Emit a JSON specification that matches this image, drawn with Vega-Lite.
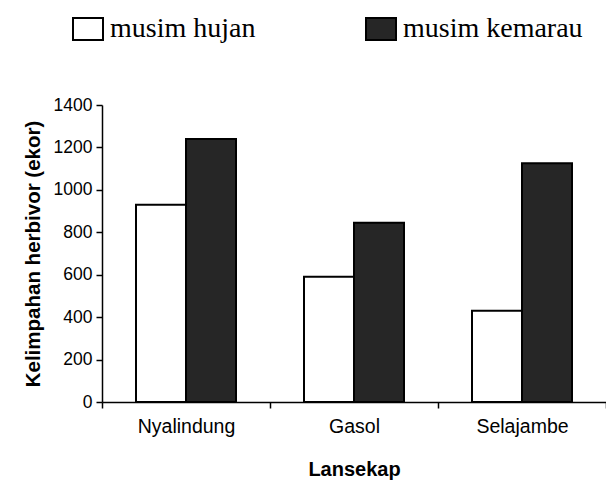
{
  "$schema": "https://vega.github.io/schema/vega-lite/v6.json",
  "autosize": "none",
  "width": 504,
  "height": 297,
  "padding": {"left": 102, "top": 105, "right": 0, "bottom": 85},
  "background": "white",
  "data": {
    "values": [
      {"Lansekap": "Nyalindung", "musim": "musim hujan", "jumlah": 930},
      {"Lansekap": "Nyalindung", "musim": "musim kemarau", "jumlah": 1240},
      {"Lansekap": "Gasol", "musim": "musim hujan", "jumlah": 590},
      {"Lansekap": "Gasol", "musim": "musim kemarau", "jumlah": 845},
      {"Lansekap": "Selajambe", "musim": "musim hujan", "jumlah": 430},
      {"Lansekap": "Selajambe", "musim": "musim kemarau", "jumlah": 1125}
    ]
  },
  "mark": {"type": "bar", "stroke": "black", "strokeWidth": 2},
  "encoding": {
    "x": {
      "field": "Lansekap",
      "type": "nominal",
      "sort": ["Nyalindung", "Gasol", "Selajambe"],
      "scale": {"paddingInner": 0, "paddingOuter": 0},
      "axis": {
        "title": "Lansekap",
        "labelAngle": 0,
        "tickBand": "extent",
        "labelFont": "Liberation Sans",
        "labelFontSize": 19.5,
        "labelColor": "black",
        "labelPadding": 9,
        "tickSize": 6,
        "tickColor": "black",
        "tickWidth": 1.5,
        "domainColor": "black",
        "domainWidth": 1.5,
        "titleFont": "Liberation Sans",
        "titleFontSize": 20,
        "titleFontWeight": "bold",
        "titleColor": "black",
        "titlePadding": 24
      }
    },
    "xOffset": {
      "field": "musim",
      "type": "nominal",
      "sort": ["musim hujan", "musim kemarau"],
      "scale": {"paddingOuter": 0.68, "paddingInner": 0}
    },
    "y": {
      "field": "jumlah",
      "type": "quantitative",
      "scale": {"domain": [0, 1400], "nice": false},
      "axis": {
        "title": "Kelimpahan herbivor (ekor)",
        "values": [0, 200, 400, 600, 800, 1000, 1200, 1400],
        "format": "d",
        "grid": false,
        "labelFont": "Liberation Sans",
        "labelFontSize": 17.5,
        "labelColor": "black",
        "labelPadding": 4,
        "tickSize": 6,
        "tickColor": "black",
        "tickWidth": 1.5,
        "domainColor": "black",
        "domainWidth": 1.5,
        "titleFont": "Liberation Sans",
        "titleFontSize": 20.5,
        "titleFontWeight": "bold",
        "titleColor": "black",
        "titlePadding": 10
      }
    },
    "fill": {
      "field": "musim",
      "type": "nominal",
      "scale": {"domain": ["musim hujan", "musim kemarau"], "range": ["white", "#262626"]},
      "legend": {
        "title": null,
        "orient": "none",
        "legendX": -30,
        "legendY": -92,
        "direction": "horizontal",
        "columns": 2,
        "gridAlign": "each",
        "columnPadding": 106,
        "padding": 0,
        "symbolType": "M-1,-0.733H1V0.733H-1Z",
        "symbolSize": 900,
        "symbolStrokeColor": "black",
        "symbolStrokeWidth": 2,
        "symbolOpacity": 1,
        "labelFont": "Liberation Serif",
        "labelFontSize": 28,
        "labelColor": "black",
        "labelOffset": 6,
        "labelLimit": 400
      }
    }
  },
  "config": {"view": {"stroke": null}}
}
